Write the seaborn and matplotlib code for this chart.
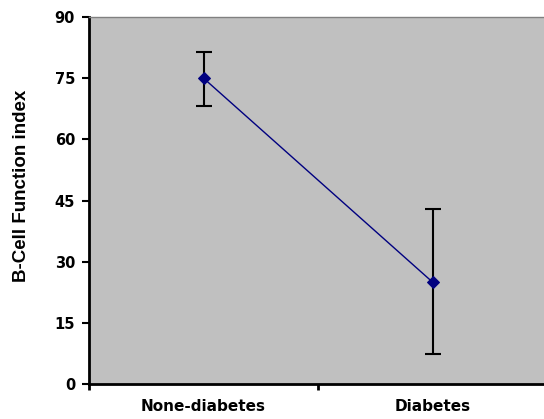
import numpy as np
import matplotlib
matplotlib.use("Agg")
import matplotlib.pyplot as plt
import seaborn as sns
from matplotlib.ticker import FixedLocator

# data
categories = ["None-diabetes", "Diabetes"]
means = [75.0, 25.0]
err_low = [6.8, 17.6]
err_high = [6.5, 17.9]
y_ticks = [0, 15, 30, 45, 60, 75, 90]

sns.set_style("white")
plt.rcParams['font.family'] = ['DejaVu Sans']

fig = plt.figure(figsize=(5.44, 4.19), dpi=100)
ax = fig.add_axes([89 / 544, 35 / 419, 458 / 544, 367 / 419])
ax.set_facecolor("#C0C0C0")

xpos = np.arange(len(categories))

# error bars first so the line/markers sit on top
ax.errorbar(xpos, means, yerr=[err_low, err_high], fmt="none",
            ecolor="black", elinewidth=1.5, capsize=6, capthick=1.5, zorder=2)
sns.lineplot(x=xpos, y=means, ax=ax, color="#000080", linewidth=1,
             marker="D", markersize=6, markeredgecolor="#000080", zorder=3)

ax.set_xlim(-0.5, len(categories) - 0.5)
ax.set_ylim(0, 90)
ax.set_yticks(y_ticks)
ax.set_yticklabels([str(t) for t in y_ticks], fontsize=10.5, fontweight="heavy",
                   color="black")

ax.set_xticks(xpos)
ax.set_xticklabels(categories, fontsize=11, fontweight="heavy", color="black")
ax.xaxis.set_minor_locator(FixedLocator([-0.5, 0.5, 1.5]))
ax.tick_params(axis="x", which="major", length=0, pad=11)
ax.tick_params(axis="x", which="minor", length=4, width=2, direction="out",
               color="black", bottom=True)
ax.tick_params(axis="y", which="major", length=5, width=1.5, direction="out",
               color="black", left=True, pad=5)

ax.set_ylabel("B-Cell Function index", fontsize=13.5, family="Liberation Sans",
              fontweight="bold", color="black")
ax.yaxis.set_label_coords(-0.129, 0.54)

for side in ["left", "bottom"]:
    ax.spines[side].set_color("black")
    ax.spines[side].set_linewidth(2)
ax.spines["top"].set_color("#808080")
ax.spines["top"].set_linewidth(1)
ax.spines["right"].set_visible(False)

fig.savefig("out.png", dpi=100, facecolor="white")
